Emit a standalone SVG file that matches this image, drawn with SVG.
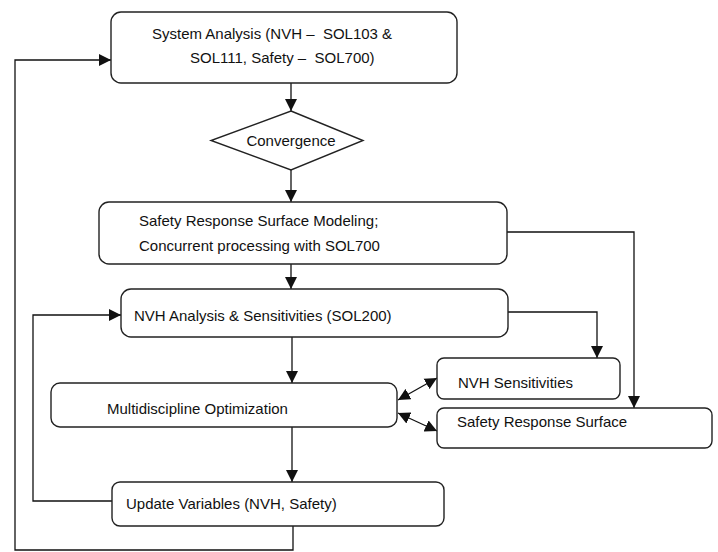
<svg xmlns="http://www.w3.org/2000/svg" width="718" height="552" viewBox="0 0 718 552">
<defs>
<marker id="ah" markerWidth="13" markerHeight="13" refX="12" refY="6.5" orient="auto-start-reverse" markerUnits="userSpaceOnUse">
<path d="M0,0.5 L12,6.5 L0,12.5 z" fill="#111"/>
</marker>
<style>
.box{fill:#fff;stroke:#222;stroke-width:1.4}
.t{font-family:"Liberation Sans",Arial,sans-serif;font-size:15px;fill:#111;white-space:pre}
.tc{text-anchor:middle}
.c{fill:none;stroke:#111;stroke-width:1.3}
</style>
</defs>
<rect width="718" height="552" fill="#fff"/>
<g id="connectors">
<path class="c" d="M291,83 L291,111" marker-end="url(#ah)"/>
<path class="c" d="M291,170 L291,202" marker-end="url(#ah)"/>
<path class="c" d="M291,258 L291,289" marker-end="url(#ah)"/>
<path class="c" d="M292,336 L292,383" marker-end="url(#ah)"/>
<path class="c" d="M292,425 L292,482" marker-end="url(#ah)"/>
<path class="c" d="M502,232 H634 V408" marker-end="url(#ah)"/>
<path class="c" d="M508,312 H597 V358" marker-end="url(#ah)"/>
<path class="c" d="M398,400 L437,378" marker-start="url(#ah)" marker-end="url(#ah)"/>
<path class="c" d="M398,413 L437,431" marker-start="url(#ah)" marker-end="url(#ah)"/>
<path class="c" d="M112,501 H33 V315 H121" marker-end="url(#ah)"/>
<path class="c" d="M293,517 V550 H15 V60 H111" marker-end="url(#ah)"/>
</g>
<g id="system-analysis">
<rect class="box" x="111" y="12" width="346" height="71" rx="10"/>
<text class="t" x="152" y="39">System Analysis (NVH –  SOL103 &amp;</text>
<text class="t" x="190" y="63">SOL111, Safety –  SOL700)</text>
</g>
<g id="convergence">
<polygon class="box" points="291,111 363,140.5 291,170 211,140.5"/>
<text class="t tc" x="291" y="146">Convergence</text>
</g>
<g id="safety-rsm">
<rect class="box" x="99" y="202" width="408" height="62" rx="10"/>
<text class="t" x="139" y="226">Safety Response Surface Modeling;</text>
<text class="t" x="139" y="251">Concurrent processing with SOL700</text>
</g>
<g id="nvh-analysis">
<rect class="box" x="121" y="289" width="387" height="48" rx="10"/>
<text class="t" x="134" y="321">NVH Analysis &amp; Sensitivities (SOL200)</text>
</g>
<g id="mdo">
<rect class="box" x="51" y="383" width="346" height="44" rx="9"/>
<text class="t" x="107" y="414">Multidiscipline Optimization</text>
</g>
<g id="nvh-sens">
<rect class="box" x="437" y="358" width="183" height="41" rx="7"/>
<text class="t" x="458" y="388">NVH Sensitivities</text>
</g>
<g id="safety-rs">
<rect class="box" x="437" y="408" width="275" height="40" rx="7"/>
<text class="t" x="457" y="427">Safety Response Surface</text>
</g>
<g id="update">
<rect class="box" x="112" y="482" width="332" height="44" rx="8"/>
<text class="t" x="126" y="509">Update Variables (NVH, Safety)</text>
</g>
</svg>
